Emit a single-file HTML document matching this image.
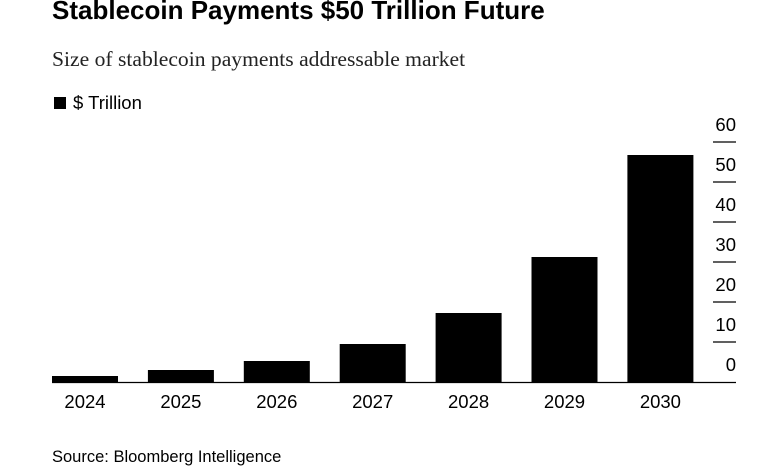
<!DOCTYPE html>
<html><head><meta charset="utf-8"><style>
body{margin:0;background:#fff;width:780px;height:470px;overflow:hidden;font-family:"Liberation Sans",sans-serif}
</style></head><body>
<svg width="780" height="470" xmlns="http://www.w3.org/2000/svg">
<text x="52" y="19" font-size="26" font-weight="bold" font-family="Liberation Sans, sans-serif">Stablecoin Payments $50 Trillion Future</text>
<text x="52" y="66" font-size="21.6" font-family="Liberation Serif, serif" fill="#222">Size of stablecoin payments addressable market</text>
<rect x="54" y="97" width="12" height="12" fill="#000"/>
<text x="73" y="109" font-size="18.5">$ Trillion</text>
<g id="plot"></g>
<text x="52" y="462" font-size="16.5">Source: Bloomberg Intelligence</text>
</svg>
<script>
const categories=["2024","2025","2026","2027","2028","2029","2030"];
const values=[1.5,3,5.25,9.5,17.25,31.25,56.75];
const ticks=[0,10,20,30,40,50,60];
const NS="http://www.w3.org/2000/svg";
const g=document.getElementById('plot');
const y0=382,pxPer=4;
function y(v){return y0-v*pxPer;}
function x(i){return 52+i*95.9;}
function mk(t,a){const e=document.createElementNS(NS,t);for(const k in a)e.setAttribute(k,a[k]);g.appendChild(e);return e;}
values.forEach((v,i)=>{
 const r=mk('rect',{x:x(i),y:y(v),width:66,height:y0-y(v),fill:'#000'});
 
 
 const t=mk('text',{x:x(i)+33,y:408,'font-size':18.5,'text-anchor':'middle'});
 t.textContent=categories[i];
 
 
});
ticks.forEach(v=>{
 if(v>0){const l=mk('line',{x1:713,x2:736,y1:y(v),y2:y(v),stroke:'#000','stroke-width':1.3});
 
 }
 const t=mk('text',{x:736,y:y(v)-11,'font-size':18.5,'text-anchor':'end'});
 t.textContent=v;
 
 
});
const b=mk('line',{x1:52,x2:736,y1:y0+0.5,y2:y0+0.5,stroke:'#000','stroke-width':1.3});


</script>
</body></html>
